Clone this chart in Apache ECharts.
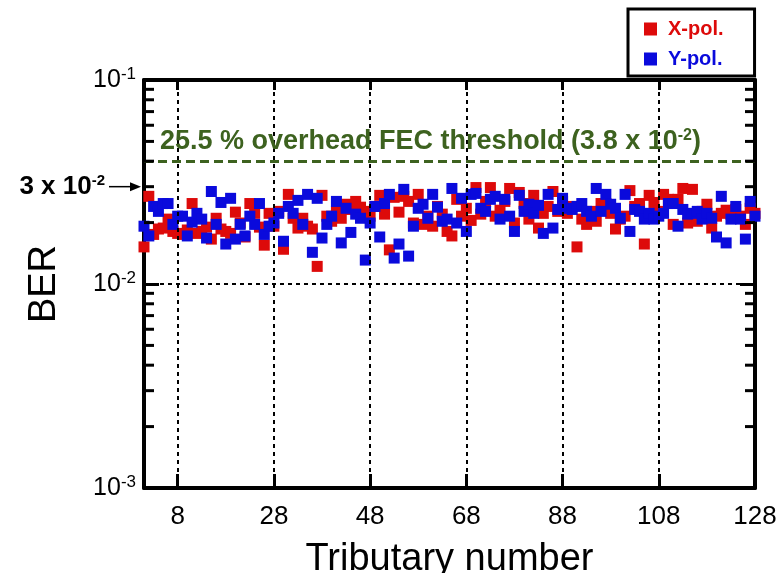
<!DOCTYPE html>
<html><head><meta charset="utf-8">
<script src="https://cdn.jsdelivr.net/npm/echarts@6/dist/echarts.min.js"></script>
<style>html,body{margin:0;padding:0;background:#fff}#c{width:782px;height:573px}</style>
</head><body><div id="c"></div>
<script>
// ---- data ----
const xMin = 1, xMax = 128;
const xTicks = [8, 28, 48, 68, 88, 108, 128];
const yMin = 0.001, yMax = 0.1;
const yMinor = [0.002,0.003,0.004,0.005,0.006,0.007,0.008,0.009,0.02,0.03,0.04,0.05,0.06,0.07,0.08,0.09];
const gridLineY = [0.01];
const threshold = 0.038;
const markerLevel = 0.03;
const xPol = [
0.0152,0.0269,0.0175,0.0186,0.0188,0.0208,0.0181,0.0177,0.0175,0.0184,
0.0248,0.0177,0.0181,0.0190,0.0166,0.0210,0.0186,0.0181,0.0177,0.0225,
0.0199,0.0170,0.0248,0.0222,0.0190,0.0155,0.0222,0.0192,0.0227,0.0148,
0.0275,0.0210,0.0188,0.0210,0.0192,0.0186,0.0122,0.0272,0.0215,0.0203,
0.0227,0.0210,0.0246,0.0232,0.0254,0.0238,0.0227,0.0215,0.0240,0.0272,
0.0220,0.0147,0.0266,0.0225,0.0269,0.0254,0.0199,0.0275,0.0196,0.0215,
0.0192,0.0240,0.0220,0.0181,0.0172,0.0260,0.0215,0.0235,0.0205,0.0297,
0.0220,0.0254,0.0297,0.0215,0.0230,0.0254,0.0294,0.0199,0.0281,0.0248,
0.0208,0.0272,0.0188,0.0222,0.0240,0.0284,0.0227,0.0254,0.0222,0.0240,
0.0152,0.0208,0.0196,0.0227,0.0203,0.0248,0.0248,0.0222,0.0186,0.0208,
0.0215,0.0287,0.0240,0.0248,0.0157,0.0272,0.0251,0.0227,0.0275,0.0260,
0.0196,0.0260,0.0294,0.0199,0.0291,0.0203,0.0227,0.0246,0.0188,0.0215,
0.0222,0.0230,0.0220,0.0232,0.0215,0.0196,0.0235,0.0222];
const yPol = [
0.0192,0.0172,0.0240,0.0227,0.0248,0.0248,0.0196,0.0215,0.0215,0.0172,
0.0201,0.0222,0.0208,0.0168,0.0284,0.0196,0.0251,0.0157,0.0263,0.0166,
0.0196,0.0172,0.0215,0.0196,0.0248,0.0175,0.0192,0.0199,0.0222,0.0162,
0.0240,0.0222,0.0257,0.0196,0.0275,0.0143,0.0263,0.0168,0.0196,0.0215,
0.0254,0.0159,0.0235,0.0179,0.0220,0.0210,0.0131,0.0199,0.0240,0.0170,
0.0248,0.0275,0.0134,0.0157,0.0291,0.0137,0.0192,0.0235,0.0246,0.0210,
0.0275,0.0238,0.0203,0.0208,0.0294,0.0199,0.0263,0.0181,0.0275,0.0278,
0.0235,0.0227,0.0260,0.0269,0.0208,0.0260,0.0215,0.0181,0.0272,0.0227,
0.0246,0.0222,0.0243,0.0177,0.0275,0.0188,0.0232,0.0263,0.0235,0.0232,
0.0240,0.0248,0.0227,0.0215,0.0294,0.0227,0.0275,0.0246,0.0235,0.0210,
0.0275,0.0181,0.0232,0.0227,0.0208,0.0222,0.0208,0.0215,0.0222,0.0248,
0.0248,0.0192,0.0232,0.0220,0.0222,0.0227,0.0208,0.0222,0.0210,0.0170,
0.0269,0.0159,0.0208,0.0240,0.0208,0.0166,0.0254,0.0215];
const tributary = xPol.map((_, i) => i + 1);

// ---- styles ----
const FONT = '"Liberation Sans", Arial, sans-serif';
const RED = '#dd0a0a', BLUE = '#0a0adc', GREEN = '#3d621f';

const chart = echarts.init(document.getElementById('c'), null, {renderer: 'canvas'});

const xAxisCommon = {type: 'value', min: xMin, max: xMax, splitLine: {show: false}};
const yAxisCommon = {type: 'log', logBase: 10, min: yMin, max: yMax, splitLine: {show: false}, minorTick: {show: false}};

chart.setOption({
  animation: false,
  backgroundColor: '#fff',
  grid: {left: 144, right: 27, top: 80, bottom: 85, containLabel: false, outerBoundsMode: 'none'},
  legend: {
    orient: 'vertical', left: 628, top: 9,
    borderColor: '#000', borderWidth: 3, borderRadius: 0,
    padding: [10, 31, 7, 16],
    itemWidth: 13, itemHeight: 13, itemGap: 10,
    icon: 'rect',
    textStyle: {fontFamily: FONT, fontSize: 20, fontWeight: 'bold', padding: [0, 0, 0, 6], lineHeight: 20},
    data: [
      {name: 'X-pol.', textStyle: {color: RED}},
      {name: 'Y-pol.', textStyle: {color: BLUE}}
    ]
  },
  xAxis: [
    Object.assign({}, xAxisCommon, {
      position: 'bottom',
      name: 'Tributary number', nameLocation: 'middle', nameGap: 53,
      nameTextStyle: {fontFamily: FONT, fontSize: 38, color: '#000'},
      axisLine: {show: true, onZero: false, lineStyle: {color: '#000', width: 4}},
      axisTick: {show: true, inside: true, length: 14, customValues: xTicks, lineStyle: {color: '#000', width: 3}},
      axisLabel: {show: true, customValues: xTicks, margin: 16, fontFamily: FONT, fontSize: 26, color: '#000'}
    }),
    Object.assign({}, xAxisCommon, {
      position: 'top',
      axisLine: {show: true, onZero: false, lineStyle: {color: '#000', width: 4}},
      axisTick: {show: true, inside: true, length: 10, customValues: xTicks, lineStyle: {color: '#000', width: 3}},
      axisLabel: {show: false}
    })
  ],
  yAxis: [
    Object.assign({}, yAxisCommon, {
      position: 'left',
      name: 'BER', nameLocation: 'middle', nameGap: 80,
      nameTextStyle: {fontFamily: FONT, fontSize: 38, color: '#000'},
      axisLine: {show: true, onZero: false, lineStyle: {color: '#000', width: 4}},
      axisTick: {show: true, inside: true, length: 15, lineStyle: {color: '#000', width: 3}},
      axisLabel: {
        show: true, margin: 8, color: '#000',
        formatter: v => '{b|10}{s|' + Math.round(Math.log10(v)) + '}',
        rich: {
          b: {fontFamily: FONT, fontSize: 25, color: '#000', lineHeight: 28},
          s: {fontFamily: FONT, fontSize: 17, color: '#000', verticalAlign: 'top', lineHeight: 17}
        }
      }
    }),
    Object.assign({}, yAxisCommon, {
      position: 'right',
      axisLine: {show: true, onZero: false, lineStyle: {color: '#000', width: 4}},
      axisTick: {show: true, inside: true, length: 15, lineStyle: {color: '#000', width: 3}},
      axisLabel: {show: false}
    })
  ],
  series: [
    {
      // dotted reference grid lines
      type: 'line', data: [], z: 1, silent: true, legendHoverLink: false,
      markLine: {
        silent: true, symbol: ['none', 'none'], animation: false,
        label: {show: false},
        lineStyle: {color: '#000', width: 2, type: [4, 4]},
        data: xTicks.filter(v => v < xMax).map(v => ({xAxis: v}))
          .concat(gridLineY.map(v => ({yAxis: v})))
      }
    },
    {
      // minor log ticks on left and right axes
      type: 'custom', z: 5, silent: true, clip: false,
      data: yMinor.map(v => [xMin, v]),
      encode: {x: 0, y: 1},
      renderItem: (params, api) => {
        const v = api.value(1);
        const pL = api.coord([xMin, v]);
        const pR = api.coord([xMax, v]);
        return {type: 'group', children: [
          {type: 'line', shape: {x1: pL[0], y1: pL[1], x2: pL[0] + 10, y2: pL[1]}, style: {stroke: '#000', lineWidth: 3}},
          {type: 'line', shape: {x1: pR[0], y1: pR[1], x2: pR[0] - 10, y2: pR[1]}, style: {stroke: '#000', lineWidth: 3}}
        ]};
      }
    },
    {
      // "3 x 10^-2" arrow annotation
      type: 'custom', z: 5, silent: true, clip: false,
      data: [[xMin, markerLevel]],
      encode: {x: 0, y: 1},
      renderItem: (params, api) => {
        const p = api.coord([api.value(0), api.value(1)]);
        const x = p[0] - 3, y = p[1];
        return {type: 'group', children: [
          {type: 'line', shape: {x1: x - 32, y1: y, x2: x - 8, y2: y}, style: {stroke: '#000', lineWidth: 1.5}},
          {type: 'polygon', shape: {points: [[x, y], [x - 11, y - 4.5], [x - 11, y + 4.5]]}, style: {fill: '#000'}},
          {type: 'text', x: x - 36, y: y, style: {
            text: '{b|3 x 10}{s|-2}', align: 'right', verticalAlign: 'middle',
            rich: {
              b: {fontFamily: FONT, fontSize: 26, fontWeight: 'bold', fill: '#000', lineHeight: 26},
              s: {fontFamily: FONT, fontSize: 15, fontWeight: 'bold', fill: '#000', verticalAlign: 'top', lineHeight: 15}
            }
          }}
        ]};
      }
    },
    {
      name: 'X-pol.', type: 'scatter', z: 3, symbol: 'rect', symbolSize: 11,
      itemStyle: {color: RED, opacity: 1},
      data: xPol.map((v, i) => [tributary[i], v]),
      markLine: {
        silent: true, symbol: ['none', 'none'], animation: false,
        lineStyle: {color: GREEN, width: 3, type: [9, 5]},
        label: {
          show: true, position: 'insideStartTop', distance: [16, 6],
          formatter: '{t|25.5 % overhead FEC threshold (3.8 x 10}{s|-2}{t|)}',
          rich: {
            t: {fontFamily: FONT, fontSize: 27, fontWeight: 'bold', color: GREEN, lineHeight: 28},
            s: {fontFamily: FONT, fontSize: 16, fontWeight: 'bold', color: GREEN, verticalAlign: 'top', lineHeight: 16}
          }
        },
        data: [{yAxis: threshold}]
      }
    },
    {
      name: 'Y-pol.', type: 'scatter', z: 4, symbol: 'rect', symbolSize: 11,
      itemStyle: {color: BLUE, opacity: 1},
      data: yPol.map((v, i) => [tributary[i], v])
    }
  ]
});
</script>
</body></html>
